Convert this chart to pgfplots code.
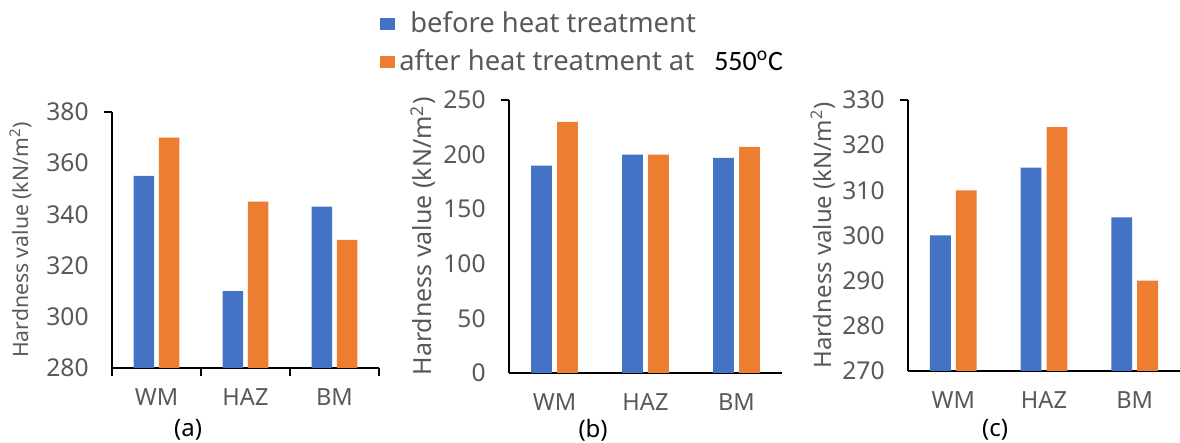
\documentclass[border=0pt]{standalone}
\usepackage{pgfplots}
\pgfplotsset{compat=1.18}
\usepackage{fontspec}
\setmainfont{Noto Sans}
\newfontfamily\calfont{Carlito}
\definecolor{barblue}{HTML}{4472C4}
\definecolor{barorange}{HTML}{ED7D31}
\definecolor{txtgray}{HTML}{595959}

\pgfplotsset{
  panel/.style={
    scale only axis,
    axis x line*=bottom, axis y line*=left,
    axis line style={black, line width=0.8pt, -},
    xmin=-0.5, xmax=2.5,
    xtick={0,1,2}, xticklabels={WM,HAZ,BM},
    ybar, bar width=0.23,
    tick align=outside,
    major tick length=0pt,
    tick style={black, line width=0.8pt},
    /pgf/number format/assume math mode=true,
    /pgf/number format/1000 sep={},
    yticklabel style={anchor=east, inner sep=0pt, xshift=-11.5pt, font=\fontsize{12.3}{14}\selectfont, text=txtgray},
    xticklabel style={anchor=center, inner sep=0pt, yshift=-14.5pt, font=\fontsize{11.8}{14}\selectfont, text=txtgray},
    ylabel style={font=\fontsize{11.5}{14}\selectfont, text=txtgray},
    xlabel style={font=\fontsize{12}{14}\selectfont, text=black, anchor=center},
    legend image code/.code={\fill[##1] (0pt,-3pt) rectangle (7.5pt,3pt);},
    clip=true,
  },
}

\begin{document}
\begin{tikzpicture}
\path[use as bounding box] (0,0) rectangle (590pt,221.5pt);

% (a)
\begin{axis}[panel,
  at={(56pt,37.5pt)}, anchor=south west,
  width=133.5pt, height=128pt,
  ymin=280, ymax=380, ytick={280,300,...,380},
  extra y ticks={380}, extra y tick labels={},
  extra y tick style={major tick length=4pt},
  extra x ticks={-0.5,0.5,1.5,2.5}, extra x tick labels={},
  extra x tick style={major tick length=4pt},
  ylabel={Hardness value (kN/m\textsuperscript{2})},
  ylabel style={at={(axis description cs:-0.341,0.5)}, anchor=center, rotate=0, font=\fontsize{10.6}{13}\selectfont},
  xlabel={(a)},
  xlabel style={at={(axis description cs:0.285,-0.242)}},
]
\addplot[fill=barblue, draw=none, bar shift=-0.143] coordinates {(0,355) (1,310) (2,343)};
\addplot[fill=barorange, draw=none, bar shift=0.143] coordinates {(0,370) (1,345) (2,330)};
\end{axis}

% (b)
\begin{axis}[panel,
  at={(254.5pt,35pt)}, anchor=south west,
  width=136.5pt, height=136.5pt,
  ymin=0, ymax=250, ytick={0,50,...,250},
  extra y ticks={250}, extra y tick labels={},
  extra y tick style={major tick length=4pt},
  ylabel={Hardness value (kN/m\textsuperscript{2})},
  ylabel style={at={(axis description cs:-0.315,0.5)}, anchor=center, rotate=0, font=\fontsize{12.5}{14}\selectfont},
  xlabel={(b)},
  xlabel style={at={(axis description cs:0.308,-0.209)}},
  legend cell align=left,
  legend style={draw=none, fill=none, at={(axis description cs:-0.473,1.34)}, anchor=north west,
    inner sep=0pt, row sep=3pt, font=\fontsize{13.7}{16}\selectfont, text=txtgray},
]
\addplot[fill=barblue, draw=none, bar shift=-0.143] coordinates {(0,190) (1,200) (2,197)};
\addplot[fill=barorange, draw=none, bar shift=0.143] coordinates {(0,230) (1,200) (2,207)};
\addlegendentry{\hspace{5.5pt}before heat treatment}
\addlegendentry{after heat treatment at\hspace{10pt}\textcolor{black}{\calfont\fontsize{14}{16}\selectfont 550\textsuperscript{o}C}}
\end{axis}

% (c)
\begin{axis}[panel,
  at={(454pt,36pt)}, anchor=south west,
  width=136pt, height=135.5pt,
  ymin=270, ymax=330, ytick={270,280,...,330},
  extra y ticks={330}, extra y tick labels={},
  extra y tick style={major tick length=4pt},
  ylabel={Hardness value (kN/m\textsuperscript{2})},
  ylabel style={at={(axis description cs:-0.3125,0.5)}, anchor=center, rotate=0, font=\fontsize{12}{14}\selectfont},
  xlabel={(c)},
  xlabel style={at={(axis description cs:0.32,-0.218)}},
]
\addplot[fill=barblue, draw=none, bar shift=-0.143] coordinates {(0,300) (1,315) (2,304)};
\addplot[fill=barorange, draw=none, bar shift=0.143] coordinates {(0,310) (1,324) (2,290)};
\end{axis}
\end{tikzpicture}
\end{document}
